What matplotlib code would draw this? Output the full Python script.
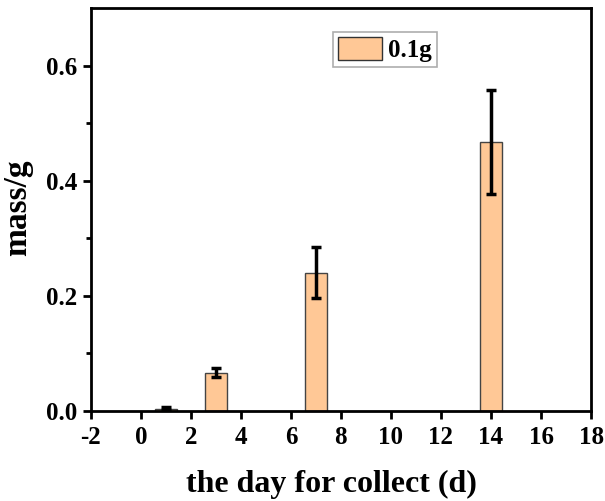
import numpy as np
import matplotlib.pyplot as plt

# data
days = [1, 3, 7, 14]
mass = [0.004, 0.066, 0.240, 0.467]
err = [0.003, 0.008, 0.044, 0.091]
x_ticks = [-2, 0, 2, 4, 6, 8, 10, 12, 14, 16, 18]
y_ticks = [0.0, 0.2, 0.4, 0.6]

plt.rcParams['font.family'] = 'Liberation Serif'
plt.rcParams['font.weight'] = 'bold'
plt.rcParams['axes.unicode_minus'] = False

fig = plt.figure(figsize=(6.05, 5.01), dpi=100)
ax = fig.add_axes([0.150, 0.180, 0.827, 0.804])

ax.bar(days, mass, width=0.86, color='#FFC896', edgecolor='#444444', linewidth=1,
       yerr=err, error_kw=dict(ecolor='black', elinewidth=2.5, capsize=3.7, capthick=2.5),
       label='0.1g', zorder=2)

ax.set_xlim(-2, 18)
ax.set_ylim(0, 0.7)
ax.set_xticks(x_ticks)
ax.set_yticks(y_ticks)
ax.set_yticks([0.1, 0.3, 0.5], minor=True)
ax.tick_params(axis='both', which='major', direction='out', length=6, width=2, labelsize=18)
ax.tick_params(axis='x', which='major', pad=5)
ax.tick_params(axis='y', which='minor', direction='out', length=3.5, width=2)
for s in ax.spines.values():
    s.set_linewidth(2)

ax.set_xlabel('the day for collect (d)', fontsize=23, fontweight='bold')
ax.set_ylabel('mass/g', fontsize=24, fontweight='bold')
ax.xaxis.set_label_coords(0.482, -0.147)
ax.yaxis.set_label_coords(-0.116, 0.505)

leg = ax.legend(loc='upper left', bbox_to_anchor=(0.484, 0.94), fontsize=18, frameon=True,
                fancybox=False, shadow=False, handlelength=1.75, handleheight=1.0,
                borderpad=0.2, handletextpad=0.25, borderaxespad=0)
leg.get_frame().set_edgecolor('#999999')
leg.get_frame().set_linewidth(1.2)
for p in leg.get_patches():
    p.set_edgecolor('#333333')

fig.savefig('out.png', dpi=100)
